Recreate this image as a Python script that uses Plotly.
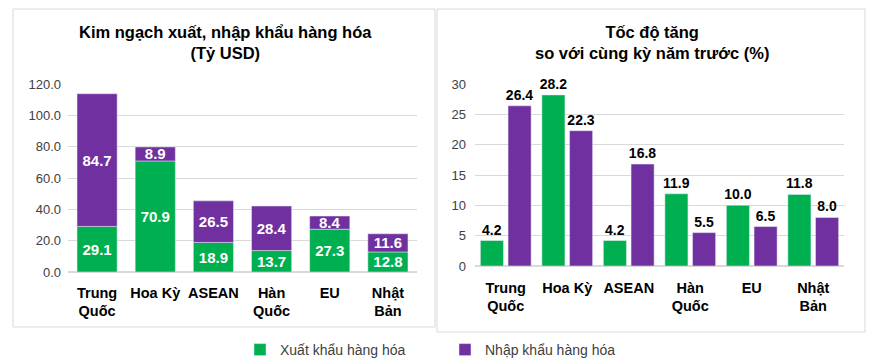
import plotly.graph_objects as go

categories = ["Trung<br>Quốc", "Hoa Kỳ", "ASEAN", "Hàn<br>Quốc", "EU", "Nhật<br>Bản"]
export_value = [29.1, 70.9, 18.9, 13.7, 27.3, 12.8]
import_value = [84.7, 8.9, 26.5, 28.4, 8.4, 11.6]
export_growth = [4.2, 28.2, 4.2, 11.9, 10.0, 11.8]
import_growth = [26.4, 22.3, 16.8, 5.5, 6.5, 8.0]
left_ticks = [0, 20, 40, 60, 80, 100, 120]
right_ticks = [0, 5, 10, 15, 20, 25, 30]

GREEN = "#00B050"
PURPLE = "#7030A0"
FONT = "Arial, Liberation Sans, sans-serif"
W, H = 883, 364

def px_x(v):
    return v / W

def px_y(v):
    return 1 - v / H

fig = go.Figure()

# Left: stacked bars
fig.add_trace(go.Bar(
    x=categories, y=export_value, name="Xuất khẩu hàng hóa",
    marker=dict(color=GREEN), width=0.69, offset=-0.345,
    text=[f"{v:.1f}" for v in export_value], textposition="inside",
    insidetextanchor="middle", constraintext="none",
    textfont=dict(color="white", size=15, family=FONT, weight="bold"),
    xaxis="x", yaxis="y", showlegend=True, hoverinfo="skip"))
fig.add_trace(go.Bar(
    x=categories, y=import_value, base=export_value, name="Nhập khẩu hàng hóa",
    marker=dict(color=PURPLE), width=0.69, offset=-0.345,
    text=[f"{v:.1f}" for v in import_value], textposition="inside",
    insidetextanchor="middle", constraintext="none",
    textfont=dict(color="white", size=15, family=FONT, weight="bold"),
    xaxis="x", yaxis="y", showlegend=True, hoverinfo="skip"))

# Right: grouped bars
fig.add_trace(go.Bar(
    x=categories, y=export_growth, name="Xuất khẩu hàng hóa",
    marker=dict(color=GREEN), width=0.375, offset=-0.4125,
    text=[f"{v:.1f}" for v in export_growth], textposition="outside",
    constraintext="none", cliponaxis=False,
    textfont=dict(color="black", size=14, family=FONT, weight="bold"),
    xaxis="x2", yaxis="y2", showlegend=False, hoverinfo="skip"))
fig.add_trace(go.Bar(
    x=categories, y=import_growth, name="Nhập khẩu hàng hóa",
    marker=dict(color=PURPLE), width=0.375, offset=0.0375,
    text=[f"{v:.1f}" for v in import_growth], textposition="outside",
    constraintext="none", cliponaxis=False,
    textfont=dict(color="black", size=14, family=FONT, weight="bold"),
    xaxis="x2", yaxis="y2", showlegend=False, hoverinfo="skip"))

tickfont_y = dict(family=FONT, size=13, color="#404040")
tickfont_x = dict(family=FONT, size=14.5, color="black", weight="bold")

fig.update_layout(
    width=W, height=H, barmode="overlay",
    margin=dict(l=0, r=0, t=0, b=0, autoexpand=False),
    paper_bgcolor="white", plot_bgcolor="white",
    font=dict(family=FONT),
    uniformtext=dict(mode=False),
    xaxis=dict(domain=[px_x(68), px_x(417)], anchor="y", tickfont=tickfont_x,
               showgrid=False, showline=False, ticks="", ticklabelstandoff=10,
               automargin=False),
    yaxis=dict(domain=[px_y(272), px_y(84)], anchor="x", range=[0, 120],
               tickvals=left_ticks, tickformat=".1f", tickfont=tickfont_y,
               gridcolor="#d9d9d9", zeroline=True, zerolinecolor="#d9d9d9",
               showline=False, ticklabelstandoff=6, automargin=False),
    xaxis2=dict(domain=[px_x(475), px_x(844)], anchor="y2", tickfont=tickfont_x,
                showgrid=False, showline=False, ticks="", ticklabelstandoff=11,
                automargin=False),
    yaxis2=dict(domain=[px_y(266), px_y(84)], anchor="x2", range=[0, 30],
                tickvals=right_ticks, tickfont=tickfont_y,
                gridcolor="#d9d9d9", zeroline=True, zerolinecolor="#d9d9d9",
                showline=False, ticklabelstandoff=8, automargin=False),
    legend=dict(orientation="h", x=px_x(240), y=px_y(366), xanchor="left", yanchor="bottom",
                entrywidth=160, entrywidthmode="pixels",
                font=dict(family=FONT, size=14, color="#404040"),
                bgcolor="rgba(0,0,0,0)"),
    shapes=[
        dict(type="rect", xref="paper", yref="paper", x0=px_x(13), x1=px_x(435),
             y0=px_y(327), y1=px_y(9), line=dict(color="#d9d9d9", width=1)),
        dict(type="rect", xref="paper", yref="paper", x0=px_x(437), x1=px_x(865),
             y0=px_y(332), y1=px_y(9), line=dict(color="#d9d9d9", width=1)),
    ],
    annotations=[
        dict(text="Kim ngạch xuất, nhập khẩu hàng hóa<br>(Tỷ USD)", xref="paper", yref="paper",
             x=px_x(225), y=px_y(21), xanchor="center", yanchor="top", showarrow=False,
             font=dict(family=FONT, size=16.5, color="black", weight="bold")),
        dict(text="Tốc độ tăng<br>so với cùng kỳ năm trước (%)", xref="paper", yref="paper",
             x=px_x(652), y=px_y(21), xanchor="center", yanchor="top", showarrow=False,
             font=dict(family=FONT, size=16.5, color="black", weight="bold")),
    ],
)

fig.write_html(
    "out.html",
    config={"displayModeBar": False},
    post_script="document.body.style.margin='0';document.body.style.overflow='hidden';",
)
